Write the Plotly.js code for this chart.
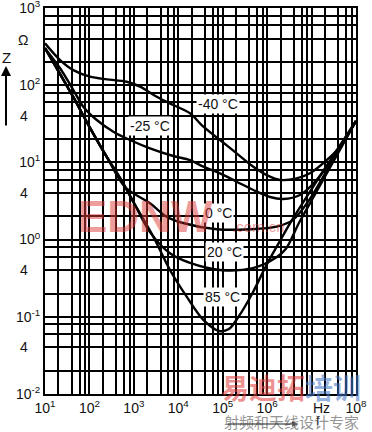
<!DOCTYPE html>
<html>
<head>
<meta charset="utf-8">
<script src="https://cdn.plot.ly/plotly-3.0.1.min.js"></script>
<style>html,body{margin:0;padding:0;background:#fff;}#chart{width:372px;height:432px;}</style>
</head>
<body>
<div id="chart"></div>
<script>
// Frequency (Hz) and impedance (Ohm)
const fM40 = [10, 21.8, 43.4, 103, 245, 690, 1375, 3265, 7720, 18350, 36600, 86900, 206000, 488000, 1.16e6, 1.95e6, 4.62e6, 9.2e6, 2.19e7, 4.36e7, 1e8];
const zM40 = [349, 212, 157, 129, 119, 111, 95.7, 71, 55.4, 43.3, 29, 19.5, 13.1, 8.8, 6.53, 5.92, 6.22, 7.23, 10.7, 16, 34.4];

const fM25 = [10, 21.8, 43.4, 72.8, 146, 345, 818, 2307, 7720, 18350, 36600, 86900, 207000, 488000, 1.16e6, 2.31e6, 5.48e6, 1.3e7, 3.08e7, 1e8];
const zM25 = [300, 166, 86.7, 52.7, 35.4, 25, 19.5, 15.2, 12.1, 10.7, 8.8, 7.2, 5.62, 4.39, 3.56, 3.36, 3.78, 5.92, 11.7, 34.4];

const fP0 = [10, 43.4, 103, 245, 631, 2307, 5480, 12760, 73300, 411000, 1.64e6, 3.82e6, 9.2e6, 2.6e7, 1e8];
const zP0 = [303, 70, 28, 11.8, 4.8, 2.95, 1.98, 1.64, 1.36, 1.36, 1.47, 1.80, 3.36, 9.25, 34.4];

const fP20 = [10, 43.4, 103, 245, 488, 1200, 2307, 6500, 18350, 86900, 480000, 1.66e6, 2.65e6, 5.2e6, 1.3e7, 1e8];
const zP20 = [303, 70, 28, 11.8, 6.3, 2.45, 1.25, 0.664, 0.498, 0.404, 0.428, 0.596, 0.76, 1.64, 4.2, 34.4];

const fP85 = [10, 43.4, 103, 245, 488, 1200, 2740, 6500, 15450, 36600, 82400, 138000, 232000, 473000, 943000, 1.85e6, 3.76e6, 1.55e7, 1e8];
const zP85 = [303, 70, 28, 11.8, 6.3, 2.5, 1.09, 0.404, 0.182, 0.091, 0.0655, 0.0695, 0.102, 0.205, 0.455, 0.912, 1.85, 6.67, 34.4];

const seriesNames = ["-40 °C", "-25 °C", "0 °C", "20 °C", "85 °C"];

// Tick labels (decades) and grid positions (2, 4, 6, 8 within each decade)
const xTickVals = [10, 100, 1e3, 1e4, 1e5, 1e6, 1e8];
const xTickText = ["10<sup>1</sup>", "10<sup>2</sup>", "10<sup>3</sup>", "10<sup>4</sup>", "10<sup>5</sup>", "10<sup>6</sup>", "10<sup>8</sup>"];
const xGridVals = [20,40,60,80, 200,400,600,800, 2e3,4e3,6e3,8e3, 2e4,4e4,6e4,8e4, 2e5,4e5,6e5,8e5, 2e6,4e6,6e6,8e6, 1e7, 2e7,4e7,6e7,8e7];
const yTickVals = [0.01, 0.1, 1, 10, 100, 1000];
const yTickText = ["10<sup>-2</sup>", "10<sup>-1</sup>", "10<sup>0</sup>", "10<sup>1</sup>", "10<sup>2</sup>", "10<sup>3</sup>"];
const yGridVals = [0.02,0.04,0.06,0.08, 0.2,0.4,0.6,0.8, 2,4,6,8, 20,40,60,80, 200,400,600,800];
const yFourVals = [0.04, 0.4, 4, 40];

const FONT = "Liberation Sans, Arial, Helvetica, sans-serif";
const line = {color: "#000", width: 2.4, shape: "spline", smoothing: 0.9};
const pairs = [[fM40,zM40],[fM25,zM25],[fP0,zP0],[fP20,zP20],[fP85,zP85]];
const traces = pairs.map((p, i) => ({x: p[0], y: p[1], type: "scatter", mode: "lines", name: seriesNames[i], line: line, hoverinfo: "skip"}));

// pixel -> paper helpers (plot area 45..356 x 8..394)
const px = x => (x - 45) / 311;
const py = y => (394 - y) / 386;

const labelPos = [[4.894, 1.756], [3.363, 1.471], [4.894, 0.345], [5.029, -0.161], [5.006, -0.743]];
const annotations = [];
const ann = o => annotations.push(Object.assign({xanchor: "center", yanchor: "middle", showarrow: false}, o));
seriesNames.forEach((n, i) => ann({
  x: labelPos[i][0], y: labelPos[i][1], xref: "x", yref: "y", text: n,
  font: {family: FONT, size: 14, color: "#111"}, bgcolor: "#fff", borderpad: 1
}));
yFourVals.forEach(v => ann({x: px(24), y: Math.log10(v), xref: "paper", yref: "y", text: "4", font: {family: FONT, size: 14, color: "#111"}}));
ann({x: px(321), y: py(408), xref: "paper", yref: "paper", text: "Hz", font: {family: FONT, size: 14, color: "#111"}});
ann({x: px(23), y: py(40), xref: "paper", yref: "paper", text: "Ω", font: {family: FONT, size: 14, color: "#111"}});
ann({x: px(6), y: py(57), xref: "paper", yref: "paper", text: "Z", font: {family: FONT, size: 15, color: "#111"}});
ann({x: px(6), y: py(66), xref: "paper", yref: "paper", text: "", showarrow: true, arrowhead: 2, arrowsize: 1, arrowwidth: 2, arrowcolor: "#000", ax: 0, ay: 61});
// watermarks
ann({x: px(145), y: py(217), xref: "paper", yref: "paper", text: "<b>EDNW</b>", font: {family: FONT, size: 44, color: "rgba(222,60,60,0.5)"}});
ann({x: px(258), y: py(226), xref: "paper", yref: "paper", text: ".com.cn", font: {family: FONT, size: 15, color: "rgba(215,60,60,0.5)"}});
ann({x: px(291), y: py(387), xref: "paper", yref: "paper",
  text: "<b><span style='color:rgba(225,60,60,0.75)'>易迪拓</span><span style='color:rgba(70,120,200,0.75)'>培训</span></b>",
  font: {family: "Noto Sans CJK SC", size: 28, color: "rgba(225,60,60,0.75)"}});
ann({x: px(291), y: py(421), xref: "paper", yref: "paper", text: "射频和天线设计专家", font: {family: "Noto Sans CJK SC", size: 15, color: "rgba(120,120,120,0.8)"}});
ann({x: px(298), y: py(424), xref: "paper", yref: "paper", text: "", showarrow: true, arrowhead: 2, arrowsize: 0.8, arrowwidth: 1.5, arrowcolor: "rgba(40,40,40,0.7)", ax: -72, ay: 0});
ann({x: px(318), y: py(420), xref: "paper", yref: "paper", text: "f", font: {family: FONT, size: 13, color: "#333"}});

const axisCommon = {
  type: "log", tickmode: "array", showgrid: true, gridcolor: "#000", gridwidth: 2,
  showline: true, mirror: true, linecolor: "#000", linewidth: 2, ticks: "", ticklabeloverflow: "allow",
  tickfont: {family: FONT, size: 14, color: "#111"}, zeroline: false, fixedrange: true
};
const layout = {
  width: 372, height: 432,
  margin: {l: 45, r: 16, t: 8, b: 38, pad: 0},
  paper_bgcolor: "#fff", plot_bgcolor: "#fff",
  showlegend: false,
  font: {family: FONT, size: 14, color: "#111"},
  xaxis: Object.assign({}, axisCommon, {range: [0.9995, 8.0005], tickvals: xTickVals, ticktext: xTickText,
    minor: {tickmode: "array", tickvals: xGridVals, showgrid: true, gridcolor: "#000", gridwidth: 2, ticks: ""}}),
  yaxis: Object.assign({}, axisCommon, {range: [-2.0005, 3.0005], tickvals: yTickVals, ticktext: yTickText,
    minor: {tickmode: "array", tickvals: yGridVals, showgrid: true, gridcolor: "#000", gridwidth: 2, ticks: ""}}),
  annotations: annotations
};
Plotly.newPlot("chart", traces, layout, {staticPlot: true, displayModeBar: false});
</script>
</body>
</html>
